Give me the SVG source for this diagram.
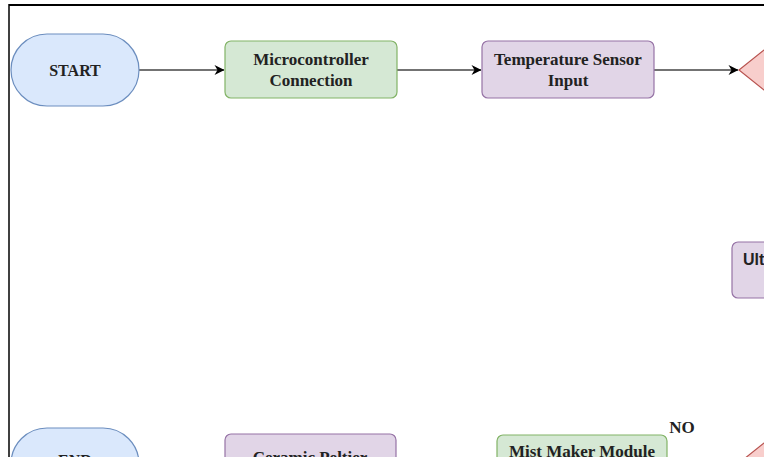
<svg xmlns="http://www.w3.org/2000/svg" width="764" height="457" viewBox="0 0 764 457">
  <style>
    .t { font-family: "Liberation Serif", "Times New Roman", serif; font-weight: bold; font-size: 17px; fill: #222222; text-anchor: middle; }
    .s { font-family: "Liberation Sans", Arial, sans-serif; font-weight: bold; font-size: 16px; fill: #222222; }
    .blue { fill: #dae8fc; stroke: #6c8ebf; stroke-width: 1.2; }
    .green { fill: #d5e8d4; stroke: #82b366; stroke-width: 1.2; }
    .purple { fill: #e1d5e7; stroke: #9673a6; stroke-width: 1.2; }
    .red { fill: #f8cecc; stroke: #b85450; stroke-width: 1.2; }
    .edge { stroke: #444444; stroke-width: 1.6; fill: none; }
  </style>
  <defs>
    <marker id="arr" viewBox="0 0 10 10" refX="9.5" refY="5" markerWidth="11" markerHeight="10" markerUnits="userSpaceOnUse" orient="auto">
      <path d="M0,0 L10,5 L0,10 L3,5 Z" fill="#000"/>
    </marker>
  </defs>
  <rect x="0" y="0" width="764" height="457" fill="#ffffff"/>
  <g id="frame">
    <line x1="9" y1="5" x2="764" y2="5" stroke="#000" stroke-width="2.2"/>
    <line x1="9" y1="4" x2="9" y2="457" stroke="#000" stroke-width="1.5"/>
  </g>
  <g id="connectors">
    <line class="edge" x1="139" y1="70" x2="224" y2="70" marker-end="url(#arr)"/>
    <line class="edge" x1="397" y1="70" x2="481" y2="70" marker-end="url(#arr)"/>
    <line class="edge" x1="654" y1="70" x2="738" y2="70" marker-end="url(#arr)"/>
  </g>
  <g id="start">
    <rect class="blue" x="11" y="34" width="128" height="72" rx="36" ry="36"/>
    <text class="t" x="75" y="76" style="font-size:16px">START</text>
  </g>
  <g id="micro">
    <rect class="green" x="225" y="41" width="172" height="57" rx="6" ry="6"/>
    <text class="t" x="311" y="65">Microcontroller</text>
    <text class="t" x="311" y="86">Connection</text>
  </g>
  <g id="temp">
    <rect class="purple" x="482" y="41" width="172" height="57" rx="6" ry="6"/>
    <text class="t" x="568" y="65">Temperature Sensor</text>
    <text class="t" x="568" y="86">Input</text>
  </g>
  <g id="decision1">
    <polygon class="red" points="739,70 814,10 889,70 814,130"/>
  </g>
  <g id="ultrasonic">
    <rect class="purple" x="732" y="242" width="172" height="56" rx="6" ry="6"/>
    <text class="s" x="743" y="265">Ult</text>
  </g>
  <g id="end">
    <rect class="blue" x="11" y="428" width="128" height="72" rx="36" ry="36"/>
    <text class="t" x="75" y="466" style="font-size:16px">END</text>
  </g>
  <g id="peltier">
    <rect class="purple" x="225" y="434" width="171" height="57" rx="6" ry="6"/>
    <text class="t" x="310" y="463">Ceramic Peltier</text>
  </g>
  <g id="mist">
    <rect class="green" x="497" y="435" width="170" height="57" rx="6" ry="6"/>
    <text class="t" x="582" y="457">Mist Maker Module</text>
  </g>
  <g id="decision2">
    <polygon class="red" points="739,463 814,403 889,463 814,523"/>
  </g>
  <g id="label-no">
    <text class="t" x="682" y="433">NO</text>
  </g>
</svg>
